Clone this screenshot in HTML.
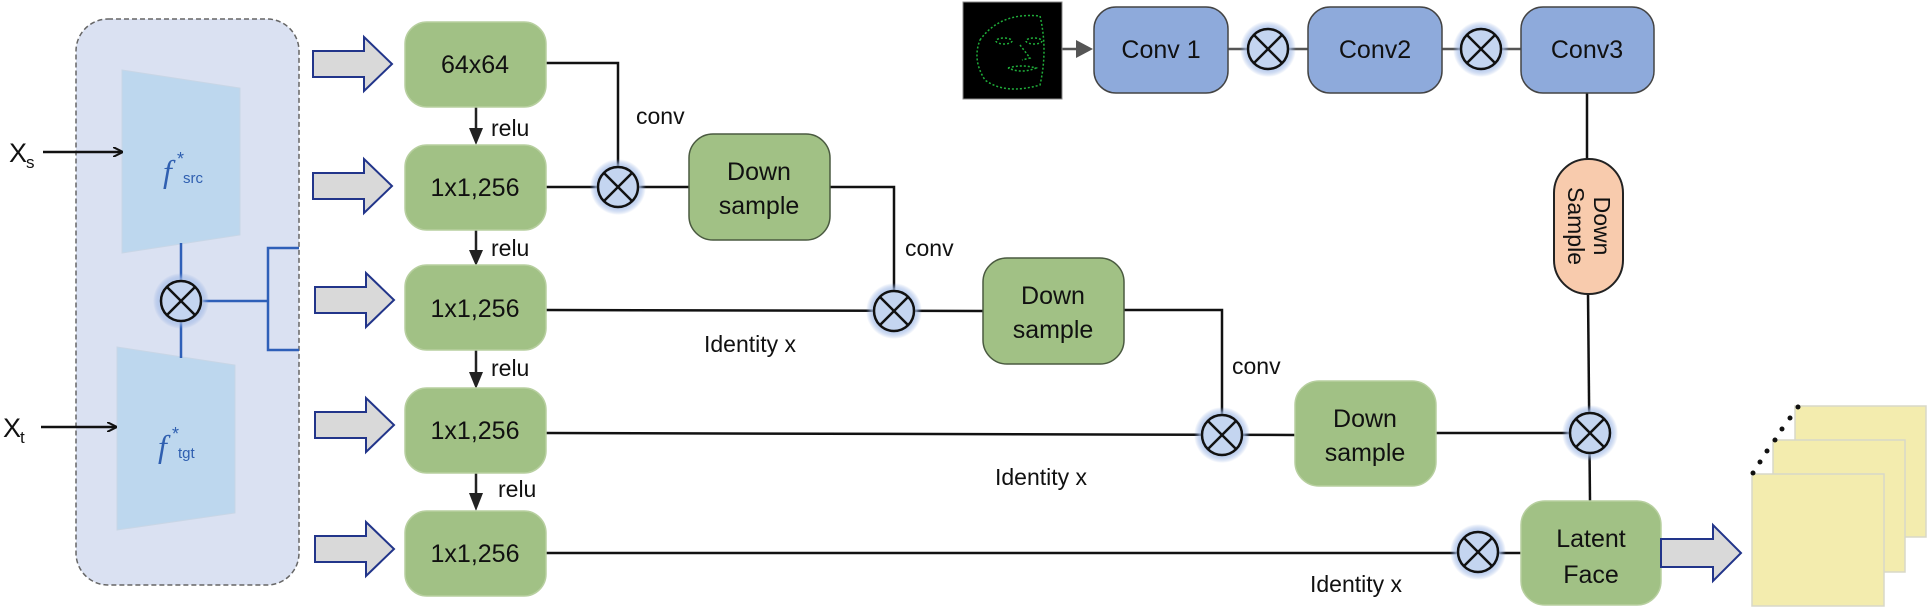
<!DOCTYPE html>
<html><head><meta charset="utf-8"><style>
html,body{margin:0;padding:0;background:#fff;}
svg{display:block;font-family:"Liberation Sans",sans-serif;}
</style></head><body>
<svg width="1930" height="610" viewBox="0 0 1930 610" xmlns="http://www.w3.org/2000/svg">
<defs>
<radialGradient id="g" cx="50%" cy="50%" r="50%">
<stop offset="0%" stop-color="#d5e2f5"/><stop offset="70%" stop-color="#b9cdee"/><stop offset="100%" stop-color="#7f9fdc" stop-opacity="0"/>
</radialGradient>
<g id="ot">
<circle r="28" fill="url(#g)"/>
<circle r="20" fill="#c4d5f0" stroke="#111" stroke-width="2.5"/>
<line x1="-14" y1="-14" x2="14" y2="14" stroke="#111" stroke-width="2.5"/>
<line x1="-14" y1="14" x2="14" y2="-14" stroke="#111" stroke-width="2.5"/>
</g>
<g id="ga"><path d="M0,-13 H51 V-27 L79,0 L51,27 V13 H0 Z" fill="#d9d9d9" stroke="#22358a" stroke-width="2"/></g>
<marker id="ah" markerWidth="10" markerHeight="10" refX="9" refY="5" orient="auto" markerUnits="userSpaceOnUse"><path d="M0,0 L10,5 L0,10" fill="none" stroke="#111" stroke-width="2"/></marker>
</defs>

<rect x="76" y="19" width="223" height="566" rx="32" fill="#dae1f2" stroke="#666" stroke-width="1.5" stroke-dasharray="5,3"/>
<polygon points="122,70 240,88 240,235 122,253" fill="#bdd7ee" stroke="#c8d6e6"/>
<polygon points="117,347 235,365 235,513 117,530" fill="#bdd7ee" stroke="#c8d6e6"/>
<text x="163" y="182" font-size="32" font-style="italic" fill="#2f5fb0" font-family="Liberation Serif,serif">f</text>
<text x="177" y="165" font-size="18" fill="#2f5fb0">*</text>
<text x="183" y="183" font-size="15" fill="#2f5fb0">src</text>
<text x="158" y="457" font-size="32" font-style="italic" fill="#2f5fb0" font-family="Liberation Serif,serif">f</text>
<text x="172" y="440" font-size="18" fill="#2f5fb0">*</text>
<text x="178" y="458" font-size="15" fill="#2f5fb0">tgt</text>
<g stroke="#2e5fb8" stroke-width="2.5" fill="none">
<line x1="181" y1="243" x2="181" y2="280"/><line x1="181" y1="322" x2="181" y2="358"/>
<line x1="203" y1="301" x2="268" y2="301"/>
<polyline points="299,248 268,248 268,350 299,350"/>
</g>
<use href="#ot" x="181" y="301"/>
<text x="9" y="162" font-size="27" fill="#111">X</text><text x="26" y="168" font-size="17" fill="#111">s</text>
<text x="3" y="437" font-size="27" fill="#111">X</text><text x="20" y="443" font-size="17" fill="#111">t</text>
<line x1="43" y1="152" x2="122" y2="152" stroke="#111" stroke-width="2.5" marker-end="url(#ah)"/>
<line x1="41" y1="427" x2="116" y2="427" stroke="#111" stroke-width="2.5" marker-end="url(#ah)"/>

<use href="#ga" x="313" y="64"/>
<use href="#ga" x="313" y="186"/>
<use href="#ga" x="315" y="300"/>
<use href="#ga" x="315" y="425"/>
<use href="#ga" x="315" y="549"/>

<g stroke="#111" stroke-width="2.5" fill="none">
<polyline points="546,63 618,63 618,187"/>
<line x1="546" y1="187" x2="689" y2="187"/>
<polyline points="830,187 894,187 894,311"/>
<line x1="546" y1="310" x2="983" y2="311"/>
<polyline points="1124,310 1222,310 1222,435"/>
<line x1="546" y1="433" x2="1295" y2="435"/>
<line x1="1436" y1="433" x2="1590" y2="433"/>
<line x1="546" y1="553" x2="1521" y2="553"/>
<line x1="1587" y1="93" x2="1587" y2="159"/>
<line x1="1588" y1="294" x2="1590" y2="501"/>
</g>
<g stroke="#555" stroke-width="2.5">
<line x1="1228" y1="49" x2="1308" y2="49"/>
<line x1="1442" y1="49" x2="1521" y2="49"/>
<line x1="1062" y1="49" x2="1078" y2="49"/>
</g>
<polygon points="1076,40 1093,49 1076,58" fill="#555"/>

<g stroke="#222" stroke-width="2.5">
<line x1="476" y1="107" x2="476" y2="130"/>
<line x1="476" y1="230" x2="476" y2="252"/>
<line x1="476" y1="350" x2="476" y2="374"/>
<line x1="476" y1="472" x2="476" y2="495"/>
</g>
<g fill="#222">
<polygon points="469,128 483,128 476,145"/>
<polygon points="469,250 483,250 476,266"/>
<polygon points="469,372 483,372 476,389"/>
<polygon points="469,493 483,493 476,511"/>
</g>
<g font-size="23" fill="#111">
<text x="491" y="136">relu</text>
<text x="491" y="256">relu</text>
<text x="491" y="376">relu</text>
<text x="498" y="497">relu</text>
<text x="636" y="124">conv</text>
<text x="905" y="256">conv</text>
<text x="1232" y="374">conv</text>
<text x="704" y="352">Identity  x</text>
<text x="995" y="485">Identity  x</text>
<text x="1310" y="592">Identity  x</text>
</g>

<g fill="#a1c185" stroke="#b7cf9f" stroke-width="1.5">
<rect x="405" y="22" width="141" height="85" rx="22"/>
<rect x="405" y="145" width="141" height="85" rx="22"/>
<rect x="405" y="265" width="141" height="85" rx="22"/>
<rect x="405" y="388" width="141" height="85" rx="22"/>
<rect x="405" y="511" width="141" height="85" rx="22"/>
<rect x="1295" y="381" width="141" height="105" rx="24"/>
<rect x="1521" y="501" width="140" height="104" rx="24"/>
</g>
<g fill="#a1c185" stroke="#4a5a40" stroke-width="1.5">
<rect x="689" y="134" width="141" height="106" rx="24"/>
<rect x="983" y="258" width="141" height="106" rx="24"/>
</g>
<g font-size="25" fill="#111" text-anchor="middle">
<text x="475" y="73">64x64</text>
<text x="475" y="196">1x1,256</text>
<text x="475" y="317">1x1,256</text>
<text x="475" y="439">1x1,256</text>
<text x="475" y="562">1x1,256</text>
<text x="759" y="180">Down</text><text x="759" y="214">sample</text>
<text x="1053" y="304">Down</text><text x="1053" y="338">sample</text>
<text x="1365" y="427">Down</text><text x="1365" y="461">sample</text>
<text x="1591" y="547">Latent</text><text x="1591" y="583">Face</text>
</g>

<rect x="963" y="2" width="99" height="97" fill="#000" stroke="#888"/>
<g fill="none" stroke="#1fae3a" stroke-width="1.5" stroke-dasharray="2,2">
<path d="M980,40 Q1000,12 1040,16 Q1048,50 1040,85 Q1005,95 985,80 Q972,60 980,40 Z"/>
<ellipse cx="1004" cy="41" rx="8" ry="3"/><ellipse cx="1034" cy="41" rx="8" ry="3"/>
<path d="M1008,68 Q1022,64 1036,68 Q1022,74 1008,68"/>
<path d="M1020,45 L1030,58 L1022,60"/>
</g>
<g fill="#8eaadb" stroke="#444" stroke-width="1.5">
<rect x="1094" y="7" width="134" height="86" rx="22"/>
<rect x="1308" y="7" width="134" height="86" rx="22"/>
<rect x="1521" y="7" width="133" height="86" rx="22"/>
</g>
<g font-size="25" fill="#111" text-anchor="middle">
<text x="1161" y="58">Conv 1</text><text x="1375" y="58">Conv2</text><text x="1587" y="58">Conv3</text>
</g>
<rect x="1554" y="159" width="69" height="135" rx="34" fill="#f8cbad" stroke="#222" stroke-width="2"/>
<g transform="translate(1588,226) rotate(90)" font-size="23" fill="#111" text-anchor="middle">
<text x="0" y="-6">Down</text><text x="0" y="20">Sample</text>
</g>

<use href="#ot" x="618" y="187"/>
<use href="#ot" x="894" y="311"/>
<use href="#ot" x="1222" y="435"/>
<use href="#ot" x="1590" y="433"/>
<use href="#ot" x="1478" y="552"/>
<use href="#ot" x="1268" y="49"/>
<use href="#ot" x="1481" y="49"/>

<path d="M1661,539 H1713 V525 L1741,553 L1713,581 V567 H1661 Z" fill="#d9d9d9" stroke="#22358a" stroke-width="2"/>
<g fill="#f3ecae" stroke="#d8d8c8" stroke-width="1.5">
<rect x="1795" y="406" width="131" height="131"/>
<rect x="1773" y="440" width="132" height="132"/>
<rect x="1752" y="474" width="132" height="132"/>
</g>
<g fill="#111">
<circle cx="1753" cy="473" r="2.5"/><circle cx="1760" cy="462" r="2.5"/><circle cx="1767" cy="451" r="2.5"/>
<circle cx="1775" cy="440" r="2.5"/><circle cx="1782" cy="429" r="2.5"/><circle cx="1790" cy="418" r="2.5"/><circle cx="1798" cy="407" r="2.5"/>
</g>
</svg>
</body></html>
